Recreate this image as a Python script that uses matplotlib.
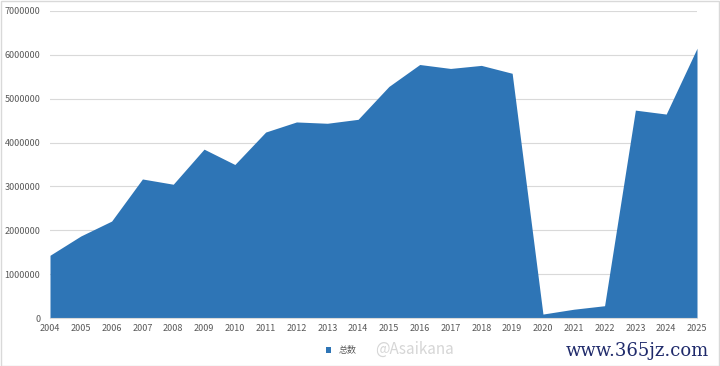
import numpy as np
import matplotlib.pyplot as plt
from matplotlib.patches import Rectangle

plt.rcParams['font.family'] = ['Noto Sans CJK SC', 'DejaVu Sans']

years = list(range(2004, 2026))
values = [1430000, 1870000, 2210000, 3170000, 3050000, 3850000, 3500000,
          4240000, 4470000, 4440000, 4530000, 5280000, 5780000, 5690000,
          5760000, 5580000, 90000, 200000, 280000, 4740000, 4650000, 6150000]
yticks = [0, 1000000, 2000000, 3000000, 4000000, 5000000, 6000000, 7000000]
series_name = "总数"

fig = plt.figure(figsize=(7.2, 3.66), dpi=100)
ax = fig.add_axes([50/720, 48/366, 647/720, 307/366])

ax.fill_between(years, values, 0, color="#2E75B6", lw=0, label=series_name)
ax.set_xlim(years[0], years[-1])
ax.set_ylim(0, 7000000)
ax.set_xticks(years)
ax.set_yticks(yticks)
ax.set_yticklabels([str(v) for v in yticks])
ax.grid(axis="y", color="#D9D9D9", lw=0.8)
ax.set_axisbelow(True)
for s in ["top", "right", "left"]:
    ax.spines[s].set_visible(False)
ax.spines["bottom"].set_color("#D9D9D9")
ax.tick_params(length=0, labelsize=6.5, colors="#595959", pad=4)
ax.tick_params(axis="y", pad=7)

ax.legend(loc="upper center", bbox_to_anchor=(0.45, -0.065), frameon=False,
          fontsize=6.5, handlelength=0.6, handleheight=0.6, labelcolor="#595959")

# watermarks
fig.text(375/720, 0.045, "@Asaikana", fontsize=11, color="#d6d6d6", ha="left", va="center", zorder=0)
fig.text(0.885, 0.04, "www.365jz.com", fontsize=13, color="#1f2a6b",
         family="DejaVu Serif", ha="center", va="center")

fig.patches.append(Rectangle((0.001, 0.001), 0.997, 0.997, transform=fig.transFigure,
                             fill=False, ec="#D9D9D9", lw=1))

fig.savefig("out.png", dpi=100)
